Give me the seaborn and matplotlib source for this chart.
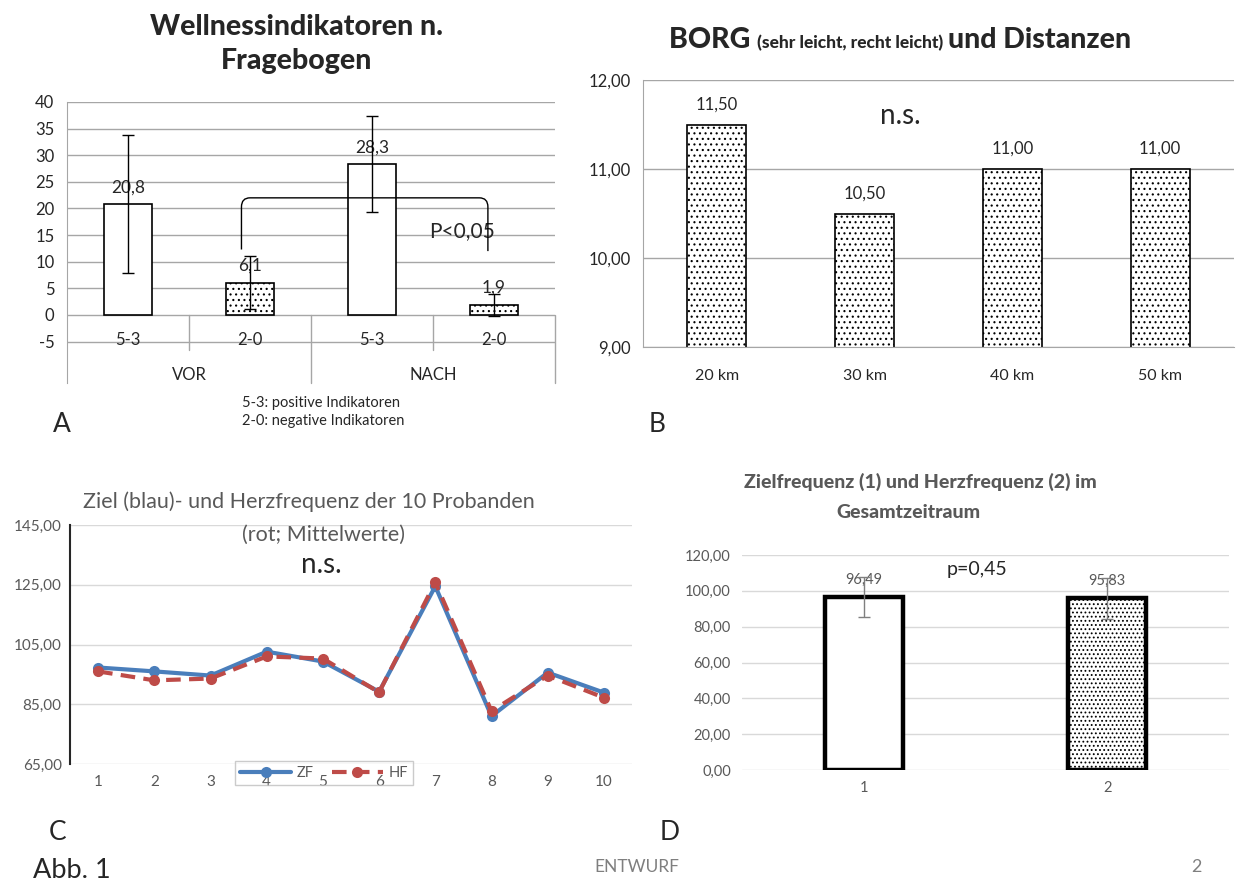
import numpy as np
import pandas as pd
import matplotlib
matplotlib.use("Agg")
import matplotlib.pyplot as plt
import seaborn as sns
from matplotlib.path import Path
from matplotlib.patches import PathPatch
from matplotlib.ticker import FuncFormatter

sns.set_style("white")
plt.rcParams["font.family"] = ["Lato", "DejaVu Sans"]
plt.rcParams["axes.unicode_minus"] = False
plt.rcParams["hatch.linewidth"] = 0.8

# ---- data ----
# A: wellness indicators before / after
a_keys = ["VOR 5-3", "VOR 2-0", "NACH 5-3", "NACH 2-0"]
a_sub = ["5-3", "2-0", "5-3", "2-0"]
a_groups = ["VOR", "NACH"]
a_values = [20.8, 6.1, 28.3, 1.9]
a_errors = [13.0, 5.0, 9.0, 2.0]
a_labels = ["20,8", "6,1", "28,3", "1,9"]

# B: BORG per distance
b_dist = ["20 km", "30 km", "40 km", "50 km"]
b_values = [11.5, 10.5, 11.0, 11.0]

# C: target and heart rate of 10 subjects
c_subjects = [1, 2, 3, 4, 5, 6, 7, 8, 9, 10]
c_zf = [97.3, 96.0, 94.6, 102.6, 99.3, 89.2, 124.5, 81.0, 95.6, 88.9]
c_hf = [96.0, 93.0, 93.6, 101.0, 100.3, 89.0, 125.8, 82.7, 94.6, 87.2]

# D: overall means
d_cats = ["1", "2"]
d_values = [96.49, 95.83]
d_errors = [11.0, 11.5]

W, H = 1245, 882
fig = plt.figure(figsize=(W / 100, H / 100), dpi=100)


def px_axes(l, t, r, b):
    return fig.add_axes([l / W, 1 - b / H, (r - l) / W, (b - t) / H])


def ftext(x, y, s, **kw):
    kw.setdefault("ha", "center")
    kw.setdefault("va", "center")
    return fig.text(x / W, 1 - y / H, s, **kw)


comma2 = FuncFormatter(lambda v, p: f"{v:.2f}".replace(".", ","))
grid_dark = "#a6a6a6"
grid_light = "#d9d9d9"
txt_gray = "#595959"

# ---------------------------
# A. Wellnessindikatoren
# ---------------------------
ax = px_axes(67, 102, 555, 383)
df_a = pd.DataFrame({"key": a_keys, "value": a_values})
sns.barplot(data=df_a, x="key", y="value", order=a_keys, width=0.4, color="white",
            edgecolor="black", linewidth=1.2, errorbar=None, ax=ax)
for i, p in enumerate(ax.patches):
    p.set_facecolor("white")
    if a_sub[i] == "2-0":
        p.set_hatch("...")
ax.errorbar(range(4), a_values, yerr=a_errors, fmt="none", ecolor="black",
            elinewidth=1, capsize=4, capthick=1, zorder=5)
ax.set_ylim(-12.77, 40)
ax.set_xlim(-0.5, 3.5)
ax.set_yticks(range(-5, 41, 5))
ax.yaxis.grid(True, color=grid_dark, linewidth=1)
ax.set_axisbelow(True)
for s in ["top", "right", "bottom"]:
    ax.spines[s].set_visible(False)
ax.spines["left"].set_color(grid_dark)
ax.tick_params(axis="y", length=6, color=grid_dark, labelsize=12, pad=3)
ax.set_xticks([])
ax.set_xlabel("")
ax.set_ylabel("")
for xs in [0.5, 2.5]:
    ax.plot([xs, xs], [0, -6.6], color=grid_dark, lw=1, clip_on=False)
for xs in [1.5, 3.5]:
    ax.plot([xs, xs], [0, -12.77], color=grid_dark, lw=1, clip_on=False)
for i, lab in enumerate(a_sub):
    ax.text(i, -4.7, lab, ha="center", va="center", fontsize=12)
for g, lab in enumerate(a_groups):
    ax.text(0.5 + 2 * g, -11.3, lab, ha="center", va="center", fontsize=12)
for i, lab in enumerate(a_labels):
    ax.text(i, a_values[i] + 3.2, lab, ha="center", va="center", fontsize=12.5)
verts = [(0.93, 12.3), (0.93, 20.3), (0.93, 22), (1.0, 22), (2.88, 22),
         (2.95, 22), (2.95, 20.3), (2.95, 12.0)]
codes = [Path.MOVETO, Path.LINETO, Path.CURVE3, Path.CURVE3, Path.LINETO,
         Path.CURVE3, Path.CURVE3, Path.LINETO]
ax.add_patch(PathPatch(Path(verts, codes), fill=False, edgecolor="black", lw=1, zorder=6))
ax.text(2.74, 15.8, "P<0,05", ha="center", va="center", fontsize=15)

ftext(297, 27, "Wellnessindikatoren n.", fontsize=20.5, fontweight="black")
ftext(297, 61, "Fragebogen", fontsize=20.5, fontweight="black")
ftext(242, 403, "5-3: positive Indikatoren", fontsize=10.5, ha="left")
ftext(242, 421, "2-0: negative Indikatoren", fontsize=10.5, ha="left")

# ---------------------------
# B. BORG und Distanzen
# ---------------------------
ax = px_axes(643, 80, 1234, 347)
df_b = pd.DataFrame({"dist": b_dist, "value": b_values})
sns.barplot(data=df_b, x="dist", y="value", order=b_dist, width=0.4, color="white",
            edgecolor="black", linewidth=1.2, errorbar=None, ax=ax)
for p in ax.patches:
    p.set_facecolor("white")
    p.set_hatch("...")
ax.set_ylim(9, 12)
ax.set_xlim(-0.5, 3.5)
ax.set_yticks([9, 10, 11, 12])
ax.yaxis.set_major_formatter(comma2)
ax.yaxis.grid(True, color=grid_dark, linewidth=1)
ax.set_axisbelow(True)
for s in ["top", "right"]:
    ax.spines[s].set_visible(False)
ax.spines["left"].set_color(grid_dark)
ax.spines["bottom"].set_color(grid_dark)
ax.tick_params(axis="y", length=6, color=grid_dark, labelsize=12, pad=3)
ax.tick_params(axis="x", which="major", length=0, labelsize=11.5, pad=16)
ax.set_xticks([-0.5, 0.5, 1.5, 2.5, 3.5], minor=True)
ax.tick_params(axis="x", which="minor", length=5, color=grid_dark)
ax.set_xlabel("")
ax.set_ylabel("")
for i, v in enumerate(b_values):
    ax.text(i, v + 0.225, f"{v:.2f}".replace(".", ","), ha="center", va="center", fontsize=12)
ax.text(1.24, 11.6, "n.s.", ha="center", va="center", fontsize=20)

# title with smaller middle part
renderer = fig.canvas.get_renderer()
parts = [("BORG ", 20.5), ("(sehr leicht, recht leicht) ", 12.5), ("und Distanzen", 20.5)]
x_cur = 669 / W
for s, fs in parts:
    t = fig.text(x_cur, 1 - 48 / H, s, fontsize=fs, fontweight="black", ha="left", va="baseline")
    bb = t.get_window_extent(renderer=renderer)
    x_cur += bb.width / W

# ---------------------------
# C. Ziel- und Herzfrequenz
# ---------------------------
ax = px_axes(70, 525, 632, 764)
sns.lineplot(x=c_subjects, y=c_zf, color="#4a7ebb", linewidth=3, marker="o",
             markersize=8, markeredgewidth=0, label="ZF", ax=ax)
sns.lineplot(x=c_subjects, y=c_hf, color="#be4b48", linewidth=3, marker="o",
             markersize=8, markeredgewidth=0, linestyle=(0, (3.5, 2)), label="HF", ax=ax)
ax.set_ylim(65, 145)
ax.set_xlim(0.5, 10.5)
ax.set_yticks(range(65, 146, 20))
ax.set_xticks(c_subjects)
ax.yaxis.set_major_formatter(comma2)
ax.yaxis.grid(True, color=grid_light, linewidth=1)
ax.set_axisbelow(True)
for s in ["top", "right", "bottom"]:
    ax.spines[s].set_visible(False)
ax.spines["left"].set_color("#262626")
ax.spines["left"].set_linewidth(1.5)
ax.tick_params(axis="both", length=0, labelsize=11, labelcolor=txt_gray)
ax.tick_params(axis="y", pad=6)
ax.tick_params(axis="x", pad=8)
ax.set_xlabel("")
ax.set_ylabel("")
leg = ax.legend(loc="center", bbox_to_anchor=(324 / W, 1 - 773 / H),
                bbox_transform=fig.transFigure, ncol=2, frameon=True, fancybox=False,
                edgecolor="#bfbfbf", handlelength=3.5, fontsize=10.5, labelcolor=txt_gray,
                columnspacing=1.2, handletextpad=0.4, borderpad=0.35)
leg.get_frame().set_facecolor("none")
ftext(309, 502, "Ziel (blau)- und Herzfrequenz der 10 Probanden", fontsize=15.5, color=txt_gray)
ftext(323, 535, "(rot; Mittelwerte)", fontsize=15.5, color=txt_gray)
ftext(321, 565, "n.s.", fontsize=20)

# ---------------------------
# D. Gesamtzeitraum
# ---------------------------
ax = px_axes(742, 555, 1229, 770)
df_d = pd.DataFrame({"cat": d_cats, "value": d_values})
sns.barplot(data=df_d, x="cat", y="value", order=d_cats, width=0.32, color="white",
            edgecolor="black", linewidth=3.2, errorbar=None, ax=ax)
for i, p in enumerate(ax.patches):
    p.set_facecolor("white")
    if i == 1:
        p.set_hatch("....")
ax.errorbar(range(2), d_values, yerr=d_errors, fmt="none", ecolor="#7f7f7f",
            elinewidth=1, capsize=4, capthick=1, zorder=5)
ax.set_ylim(0, 120)
ax.set_xlim(-0.5, 1.5)
ax.set_yticks(range(0, 121, 20))
ax.yaxis.set_major_formatter(comma2)
ax.yaxis.grid(True, color=grid_light, linewidth=1)
ax.set_axisbelow(True)
for s in ["top", "right", "left", "bottom"]:
    ax.spines[s].set_visible(False)
ax.tick_params(axis="both", length=0, labelsize=10.5, labelcolor=txt_gray)
ax.tick_params(axis="y", pad=8)
ax.tick_params(axis="x", pad=8)
ax.set_xlabel("")
ax.set_ylabel("")
for i, v in enumerate(d_values):
    ax.text(i, v + 9.5, f"{v:.2f}".replace(".", ","), ha="center", va="center",
            fontsize=10.5, color=txt_gray)
ftext(977, 570, "p=0,45", fontsize=14)
ftext(920, 482, "Zielfrequenz (1) und Herzfrequenz (2) im", fontsize=14,
      fontweight="black", color=txt_gray)
ftext(908, 513, "Gesamtzeitraum", fontsize=14, fontweight="black", color=txt_gray)

# ---------------------------
# panel letters and footer
# ---------------------------
ftext(62, 425, "A", fontsize=19)
ftext(657, 425, "B", fontsize=19)
ftext(58, 832, "C", fontsize=19)
ftext(670, 832, "D", fontsize=19)
ftext(33, 870, "Abb. 1", fontsize=19.5, ha="left")
ftext(637, 867, "ENTWURF", fontsize=12.5, color="#7f7f7f")
ftext(1196, 867, "2", fontsize=13, color="#7f7f7f")

fig.savefig("out.png", dpi=100)
